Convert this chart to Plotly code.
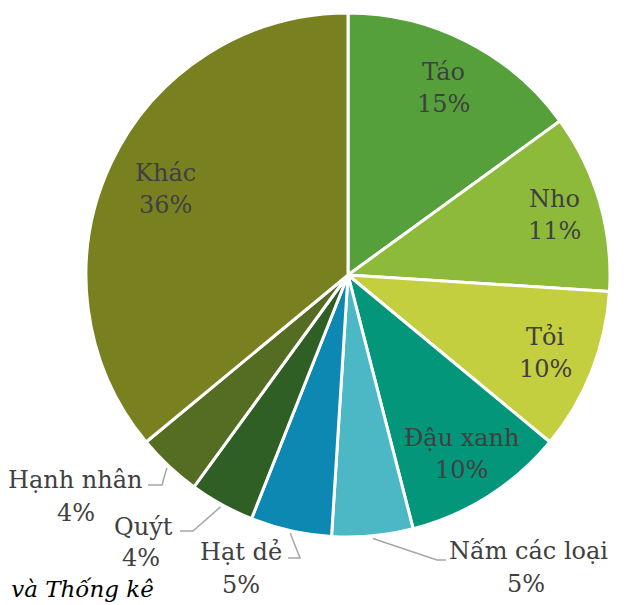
import math
import plotly.graph_objects as go

# ---- data ----
labels = ["Táo", "Nho", "Tỏi", "Đậu xanh", "Nấm các loại", "Hạt dẻ", "Quýt", "Hạnh nhân", "Khác"]
values = [15, 11, 10, 10, 5, 5, 4, 4, 36]
colors = ["#55A03A", "#8DBA3A", "#C4CF3F", "#03967A", "#4CB8C5", "#0C88B2",
          "#2F5F25", "#556D22", "#788020"]
source_text = "c và Thống kê"

# ---- layout constants (page pixels) ----
OFF = 8                      # page body margin
W, H = 628 - OFF, 605 - OFF  # figure size
CX, CY, R = 348, 275, 262
FONT = "DejaVu Serif"
FSIZE = 24
TCOL = "#404040"
LINE_GAP = 16

def P(x, y):
    return (x - OFF) / W, 1 - (y - OFF) / H

total = sum(values)
cum = []
acc = 0
for v in values:
    cum.append((acc + v / 2) / total)
    acc += v

def rim(i, rf):
    th = 2 * math.pi * cum[i]
    return CX + rf * R * math.sin(th), CY - rf * R * math.cos(th)

x0, y1 = P(CX - R, CY + R)
x1, y0 = P(CX + R, CY - R)
fig = go.Figure(go.Pie(
    labels=labels, values=values, sort=False, direction="clockwise", rotation=0,
    textinfo="none", hoverinfo="label+percent", showlegend=False,
    marker=dict(colors=colors, line=dict(color="white", width=3)),
    domain=dict(x=[x0, x1], y=[y1, y0]),
))

annotations = []
shapes = []

def add_text(txt, x, y, xanchor="center"):
    ax, ay = P(x, y)
    annotations.append(dict(text=txt, x=ax, y=ay, xref="paper", yref="paper",
                            xanchor=xanchor, yanchor="middle", showarrow=False,
                            font=dict(family=FONT, size=FSIZE, color=TCOL)))

pct = [f"{v / total * 100:.0f}%" for v in values]

# inside labels: index -> radius factor
inside = {0: 0.80, 1: 0.82, 2: 0.81, 3: 0.81, 8: 0.77}
for i, rf in inside.items():
    x, y = rim(i, rf)
    add_text(labels[i], x, y - LINE_GAP)
    add_text(pct[i], x, y + LINE_GAP)

# outside labels: index -> (name anchor x, name xanchor, name y, pct x, pct y, elbow, end)
outside = {
    4: (447, "left", 551, 526, 584, (437, 560), (446, 560)),
    5: (284, "right", 552, 241, 585, (300, 558), (288, 558)),
    6: (175, "right", 527, 141, 558, (193, 531), (180, 531)),
    7: (144, "right", 480, 76, 513, (162, 485), (148, 485)),
}
for i, (nx, nxa, ny, px_, py_, elbow, end) in outside.items():
    add_text(labels[i], nx, ny, xanchor=nxa)
    add_text(pct[i], px_, py_)
    sx, sy = rim(i, 1.01)
    pts = [P(sx, sy), P(*elbow), P(*end)]
    path = "M {} {} L {} {} L {} {}".format(pts[0][0], pts[0][1], pts[1][0], pts[1][1],
                                             pts[2][0], pts[2][1])
    shapes.append(dict(type="path", path=path, xref="paper", yref="paper",
                       line=dict(color="#A6A6A6", width=1.5)))

sx, sy = P(156, 589)
annotations.append(dict(text="<i>" + source_text + "</i>", x=sx, y=sy, xref="paper", yref="paper",
                        xanchor="right", yanchor="middle", showarrow=False,
                        font=dict(family=FONT, size=23, color="#000000")))

fig.update_layout(
    width=W, height=H, margin=dict(l=0, r=0, t=0, b=0),
    paper_bgcolor="white", plot_bgcolor="white",
    annotations=annotations, shapes=shapes,
)

fig.write_html("out.html")
